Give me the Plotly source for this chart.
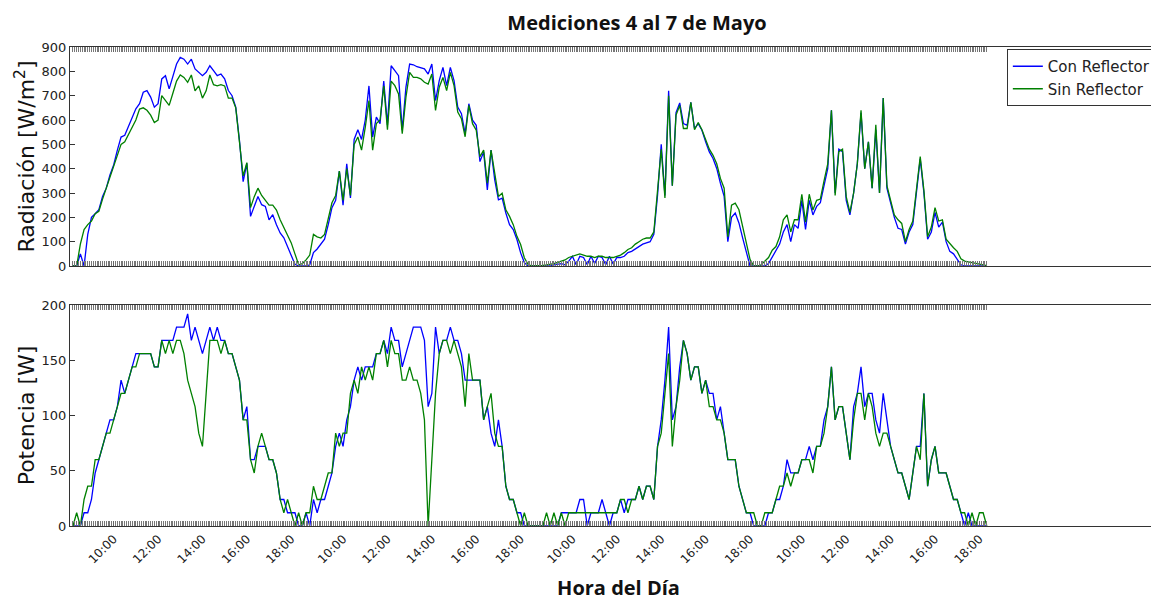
import plotly.graph_objects as go
from plotly.subplots import make_subplots

# ---- sampling: 4 days, 10-minute samples from 08:10 to 18:20 ----
days = ["4 Mayo", "5 Mayo", "6 Mayo", "7 Mayo"]
day_start_min = 8 * 60 + 10
step_min = 10
samples_per_day = 62
tick_hours = ["10:00", "12:00", "14:00", "16:00", "18:00"]

# Radiación [W/m2] - Con Reflector (blue)
rad_con = [
    # day 1
    0, 0, 50, 0, 130, 200, 215, 231, 286, 320, 374, 415, 476, 530, 537, 571, 612, 646, 667, 714,
    721, 694, 653, 667, 769, 782, 728, 775, 830, 857, 850, 830, 850, 810, 796, 782, 796, 823, 803, 782,
    789, 769, 721, 700, 653, 517, 347, 422, 204, 245, 286, 252, 245, 190, 211, 170, 136, 116, 82, 41,
    7, 0,
    # day 2
    0, 0, 5, 55, 70, 90, 110, 170, 240, 270, 390, 250, 420, 280, 520, 560, 520, 600, 740, 530,
    612, 585, 760, 580, 823, 803, 782, 558, 735, 830, 827, 819, 816, 810, 789, 830, 680, 762, 816, 741,
    816, 762, 653, 626, 544, 667, 599, 578, 429, 469, 313, 476, 354, 272, 279, 218, 170, 150, 109, 54,
    14, 0,
    # day 3
    0, 0, 0, 0, 0, 2, 5, 8, 10, 5, 20, 40, 5, 40, 35, 5, 40, 10, 40, 35,
    5, 40, 8, 35, 35, 40, 55, 60, 70, 80, 90, 95, 100, 130, 290, 500, 290, 720, 330, 630,
    670, 585, 578, 673, 565, 585, 558, 510, 469, 442, 401, 340, 286, 100, 200, 218, 177, 116, 61, 0,
    0, 0,
    # day 4
    0, 0, 10, 35, 60, 90, 140, 170, 100, 170, 155, 270, 150, 270, 210, 245, 260, 330, 400, 640,
    300, 480, 470, 270, 210, 300, 420, 630, 400, 510, 320, 560, 300, 690, 320, 260, 200, 155, 150, 90,
    140, 170, 310, 440, 300, 110, 140, 220, 160, 180, 100, 60, 50, 30, 5, 0, 0, 0, 0, 0,
    0, 0,
]

# Radiación [W/m2] - Sin Reflector (green)
rad_sin = [
    # day 1
    0, 0, 90, 150, 170, 185, 215, 225, 275, 320, 370, 410, 460, 500, 510, 540, 575, 600, 645, 650,
    640, 620, 590, 600, 700, 680, 660, 710, 760, 785, 775, 755, 785, 720, 740, 690, 720, 785, 745, 740,
    745, 740, 690, 690, 650, 510, 370, 425, 240, 285, 320, 290, 270, 250, 250, 230, 190, 160, 130, 95,
    50, 5,
    # day 2
    10, 25, 45, 130, 120, 115, 130, 200, 260, 290, 390, 270, 400, 290, 500, 530, 476, 570, 680, 476,
    585, 600, 740, 560, 760, 741, 707, 544, 694, 796, 775, 775, 769, 755, 748, 789, 639, 735, 775, 721,
    796, 741, 633, 605, 531, 660, 585, 558, 449, 476, 340, 476, 381, 286, 299, 231, 204, 170, 122, 88,
    34, 7,
    # day 3
    0, 0, 2, 3, 5, 7, 10, 15, 20, 25, 35, 40, 45, 50, 45, 40, 40, 35, 40, 40,
    35, 35, 35, 40, 45, 55, 68, 75, 90, 100, 110, 115, 115, 140, 300, 480, 280, 700, 330, 620,
    660, 565, 565, 673, 560, 590, 560, 520, 480, 455, 420, 360, 320, 120, 250, 258, 231, 163, 88, 27,
    0, 0,
    # day 4
    5, 20, 35, 65, 80, 120, 190, 210, 140, 190, 190, 295, 180, 295, 230, 270, 275, 350, 420, 640,
    290, 470, 480, 285, 220, 300, 420, 640, 400, 510, 320, 580, 300, 690, 330, 270, 210, 190, 175, 100,
    150, 185, 320, 450, 310, 120, 160, 240, 185, 190, 110, 90, 75, 60, 30, 20, 17, 15, 12, 10,
    6, 2,
]

# Potencia [W] - Con Reflector (blue)
pot_con = [
    # day 1
    0, 0, 0, 12, 12, 24, 48, 60, 72, 84, 96, 96, 108, 132, 120, 132, 144, 156, 156, 156,
    156, 156, 144, 144, 168, 168, 168, 168, 180, 180, 180, 192, 168, 180, 168, 156, 168, 180, 168, 180,
    168, 168, 156, 156, 144, 132, 96, 108, 60, 60, 72, 72, 72, 60, 60, 48, 24, 24, 12, 12,
    12, 0,
    # day 2
    0, 12, 0, 24, 12, 24, 24, 36, 48, 72, 84, 72, 96, 108, 132, 144, 132, 144, 144, 144,
    156, 156, 168, 156, 180, 168, 168, 144, 156, 168, 180, 180, 180, 168, 108, 120, 180, 156, 168, 168,
    180, 168, 168, 156, 132, 132, 132, 132, 132, 96, 108, 84, 72, 96, 72, 36, 24, 24, 12, 12,
    0, 0,
    # day 3
    0, 0, 0, 0, 0, 0, 0, 0, 12, 12, 12, 12, 12, 24, 24, 0, 12, 12, 12, 24,
    12, 0, 12, 12, 24, 12, 24, 24, 24, 36, 24, 36, 36, 24, 72, 96, 132, 180, 96, 108,
    144, 168, 156, 132, 144, 144, 120, 132, 120, 120, 96, 108, 84, 60, 60, 60, 36, 24, 12, 12,
    0, 0,
    # day 4
    0, 0, 12, 12, 24, 24, 36, 60, 48, 48, 48, 60, 60, 72, 60, 72, 72, 96, 108, 144,
    96, 108, 108, 84, 60, 108, 120, 144, 108, 120, 120, 96, 84, 120, 96, 72, 60, 48, 48, 36,
    24, 48, 72, 72, 120, 36, 60, 72, 48, 48, 48, 36, 24, 24, 12, 0, 12, 0, 0, 0,
    0, 0,
]

# Potencia [W] - Sin Reflector (green)
pot_sin = [
    # day 1
    0, 12, 0, 24, 36, 36, 60, 60, 72, 84, 84, 96, 108, 120, 120, 132, 144, 144, 156, 156,
    156, 156, 144, 144, 168, 156, 168, 156, 168, 168, 156, 132, 120, 108, 84, 72, 120, 168, 168, 168,
    156, 168, 156, 156, 144, 132, 96, 96, 60, 48, 72, 84, 72, 60, 60, 48, 24, 12, 24, 12,
    0, 12,
    # day 2
    0, 12, 12, 36, 24, 24, 36, 48, 48, 84, 72, 84, 84, 120, 132, 120, 144, 132, 144, 132,
    156, 156, 168, 144, 168, 156, 156, 132, 132, 144, 132, 132, 120, 96, 0, 60, 120, 156, 168, 168,
    156, 168, 156, 144, 108, 156, 132, 132, 132, 96, 108, 120, 84, 72, 72, 36, 24, 24, 12, 0,
    12, 0,
    # day 3
    0, 0, 0, 0, 12, 0, 12, 0, 12, 0, 12, 12, 12, 12, 12, 12, 12, 12, 12, 12,
    12, 12, 12, 12, 24, 24, 12, 24, 24, 36, 24, 36, 36, 24, 72, 84, 120, 156, 72, 108,
    132, 168, 156, 132, 144, 144, 120, 132, 108, 108, 96, 96, 84, 60, 60, 60, 36, 24, 12, 12,
    12, 0,
    # day 4
    0, 12, 12, 12, 24, 36, 36, 48, 36, 48, 48, 60, 60, 60, 48, 72, 72, 84, 108, 144,
    96, 108, 108, 84, 60, 96, 120, 120, 96, 120, 108, 84, 72, 84, 84, 72, 60, 48, 48, 36,
    24, 48, 72, 60, 120, 36, 60, 72, 48, 48, 48, 36, 24, 24, 12, 12, 0, 12, 0, 12,
    12, 0,
]

# ---- x positions (sample index) and time labels ----
times_of_day = []
for k in range(samples_per_day):
    t = day_start_min + k * step_min
    times_of_day.append(f"{t // 60:02d}:{t % 60:02d}")
x_idx = list(range(len(days) * samples_per_day))
x_time = [times_of_day[i % samples_per_day] for i in x_idx]

tickvals = [i for i in x_idx if x_time[i] in tick_hours]
ticktext = [x_time[i] for i in tickvals]
minor_vals = [i * 0.5 for i in range(2 * (len(x_idx) - 1) + 1)]

BLUE = "#0000ff"
GREEN = "#008000"
AX = "#333333"

fig = make_subplots(rows=2, cols=1, shared_xaxes=False, vertical_spacing=0.065)

fig.add_trace(go.Scatter(x=x_idx, y=rad_con, mode="lines", name="Con Reflector",
                         line=dict(color=BLUE, width=1.3), legendgroup="c"), row=1, col=1)
fig.add_trace(go.Scatter(x=x_idx, y=rad_sin, mode="lines", name="Sin Reflector",
                         line=dict(color=GREEN, width=1.3), legendgroup="s"), row=1, col=1)
fig.add_trace(go.Scatter(x=x_idx, y=pot_con, mode="lines", name="Con Reflector",
                         line=dict(color=BLUE, width=1.3), legendgroup="c", showlegend=False), row=2, col=1)
fig.add_trace(go.Scatter(x=x_idx, y=pot_sin, mode="lines", name="Sin Reflector",
                         line=dict(color=GREEN, width=1.3), legendgroup="s", showlegend=False), row=2, col=1)

xr = [-0.8, 295.7]
common_x = dict(
    range=xr, showgrid=False, zeroline=False, showline=True, linecolor=AX, linewidth=1.3,
    mirror="allticks", ticks="inside", ticklen=5, tickcolor="#666666", tickwidth=1,
    tickmode="array", tickvals=tickvals, ticktext=ticktext,
    minor=dict(tickmode="array", tickvals=minor_vals, ticks="inside", ticklen=5,
               tickcolor="#777777", tickwidth=1, showgrid=False),
)
fig.update_xaxes(**common_x)
fig.update_xaxes(showticklabels=False, domain=[0, 1], row=1, col=1)
fig.update_xaxes(showticklabels=True, tickangle=-45, domain=[0, 1],
                 tickfont=dict(family="DejaVu Sans", size=12, color="#222222"),
                 title=dict(text="<b>Hora del Día</b>", standoff=15,
                            font=dict(family="Open Sans", size=20, color="#111111")),
                 row=2, col=1)

common_y = dict(showgrid=False, zeroline=False, showline=True, linecolor=AX, linewidth=1.3,
                mirror=False, ticks="inside", ticklen=5, tickcolor=AX,
                tickfont=dict(family="DejaVu Sans", size=13, color="#222222"))
fig.update_yaxes(**common_y)
fig.update_yaxes(range=[0, 900], dtick=100, domain=[0.5707, 0.9351],
                 title=dict(text="Radiación [W/m<sup>2</sup>]", standoff=0,
                            font=dict(family="DejaVu Sans", size=22, color="#111111")),
                 row=1, col=1)
fig.update_yaxes(range=[0, 200], dtick=50, domain=[0.1381, 0.5058],
                 title=dict(text="Potencia [W]", standoff=0,
                            font=dict(family="DejaVu Sans", size=22, color="#111111")),
                 row=2, col=1)

fig.update_layout(
    width=1159, height=601,
    margin=dict(l=62, r=0, t=0, b=0, autoexpand=False),
    paper_bgcolor="white", plot_bgcolor="white",
    title=dict(text="<b>Mediciones 4 al 7 de Mayo</b>", x=0.5427, xanchor="center",
               y=0.975, yanchor="middle", yref="container",
               font=dict(family="Open Sans", size=20, color="#111111")),
    showlegend=True,
    legend=dict(x=0.854, y=0.9318, xanchor="left", yanchor="top",
                bgcolor="white", bordercolor=AX, borderwidth=1,
                font=dict(family="DejaVu Sans", size=15, color="#222222"),
                itemwidth=30, tracegroupgap=0),
)

fig.write_html("out.html")
